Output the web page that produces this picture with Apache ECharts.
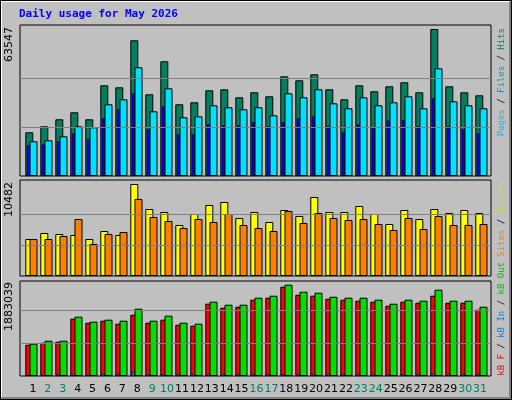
<!DOCTYPE html>
<html><head><meta charset="utf-8">
<script src="https://cdn.jsdelivr.net/npm/echarts@6/dist/echarts.min.js"></script>
<style>
html,body{margin:0;padding:0;background:#c0c0c0;}
#c{width:512px;height:400px;box-sizing:border-box;}
#frame{position:absolute;left:0;top:0;width:512px;height:400px;box-sizing:border-box;border-top:2px solid #fff;border-left:2px solid #fff;border-right:3px solid #808080;border-bottom:3px solid #808080;outline:1px solid #000;outline-offset:-1px;pointer-events:none;}
</style></head><body>
<div id="c"></div><div id="frame"></div>
<script>
const days = ['1','2','3','4','5','6','7','8','9','10','11','12','13','14','15','16','17','18','19','20','21','22','23','24','25','26','27','28','29','30','31'];
const weekend = [2,3,9,10,16,17,23,24,30,31];
const hits = [18890,21485,24511,27537,24511,39209,38344,58663,35319,49584,30996,31860,37048,37480,34022,36184,34454,43100,41371,43965,37480,33157,39209,36616,38777,40506,36184,63547,38777,36184,34887];
const files = [15001,15433,17162,21485,21053,30996,33157,46991,27970,37913,25376,25808,30564,29699,28834,29699,26241,35751,34022,37480,31428,29267,34022,30564,31860,34454,29267,46559,32293,30564,29267];
const pages = [13272,13704,15001,18459,15865,24944,28834,35751,20188,30131,18027,18027,22350,21918,21918,23214,21485,23214,24944,25808,21485,18891,22350,20621,24079,24079,21485,33590,21485,20188,18459];
const visits = [4214,4898,4784,4670,4214,5126,4670,10482,7631,7290,5809,7062,8087,8429,6606,7290,6151,7517,6834,8998,7290,7290,7973,7062,5923,7517,6492,7631,7176,7517,7176];
const sites = [4214,4214,4556,6492,3645,4784,5012,8770,6720,6264,5467,6492,6151,7062,5809,5467,5126,7404,6037,7176,6606,6378,6492,5923,5239,6606,5353,6834,5809,5809,5923];
const kbIn = [595,633,652,1090,1014,1052,995,1166,1014,1071,976,957,1375,1299,1318,1451,1489,1699,1546,1527,1470,1451,1432,1413,1337,1413,1394,1527,1394,1394,1261].map(v=>v*1000);
const kbOut = [614,671,671,1128,1033,1071,1052,1280,1052,1147,1014,995,1413,1356,1356,1489,1527,1737,1603,1584,1508,1489,1489,1451,1375,1451,1432,1641,1432,1432,1318].map(v=>v*1000);
const kbF = [20,20,30,20,20,40,40,80,30,30,30,30,30,30,30,30,30,30,30,30,30,30,30,30,30,30,30,40,30,30,30].map(v=>v*1000);
const scaleTop = 63547, scaleMid = 10482, scaleBot = 1883039;

const panels = [
  {top:25,height:151,max:65276,scale:scaleTop,series:[[hits,'#008060',8,21.8],[pages,'#0000ff',3,20.8],[files,'#00e0ff',8,26]]},
  {top:180,height:96,max:10934,scale:scaleMid,series:[[visits,'#ffff00',8,21.8],[sites,'#ff8000',8,26]]},
  {top:281,height:95,max:1807000,scale:scaleBot,series:[[kbIn,'#ff0000',8,21.8],[kbF,'#0080ff',3,20.8],[kbOut,'#00e000',8,26]]}
];
const grid=[],xAxis=[],yAxis=[],series=[];
function addGrid(g,x,y){grid.push(g);xAxis.push(Object.assign({type:'category',data:days,gridIndex:grid.length-1,axisLine:{show:false},axisTick:{show:false},axisLabel:{show:false},splitLine:{show:false}},x||{}));yAxis.push(Object.assign({type:'value',gridIndex:grid.length-1,min:0,axisLine:{show:false},axisTick:{show:false},axisLabel:{show:false},splitLine:{show:false}},y||{}));return grid.length-1;}
panels.forEach(p=>{
  const gi=addGrid({left:20,right:21,top:p.top,height:p.height,show:true,borderColor:'#000',borderWidth:1,backgroundColor:'#c0c0c0'},null,{max:p.max});
  series.push({type:'bar',xAxisIndex:gi,yAxisIndex:gi,data:[],silent:true,markLine:{silent:true,symbol:'none',label:{show:false},lineStyle:{color:'#808080',type:'solid',width:1},data:[{yAxis:p.scale/3},{yAxis:2*p.scale/3}]}});
  p.series.forEach((s,k)=>{
    const i=addGrid({left:s[3],right:512-s[3]-465,top:p.top,height:p.height},null,{max:p.max});
    series.push({type:'bar',z:2+k,xAxisIndex:i,yAxisIndex:i,data:s[0],barWidth:s[2],barMinHeight:1,itemStyle:{color:s[1],borderColor:'#000',borderWidth:s[2]>3?1:0.5},silent:true,animation:false});
  });
});
addGrid({left:25.5,right:24.5,top:378,height:1},{axisLabel:{show:true,interval:0,margin:5,fontFamily:'DejaVu Sans',fontSize:11,color:(v)=>weekend.includes(+v)?'#008060':'#000'}},{max:1});

const F='9px "DejaVu Sans Mono"';
function rt(text,x,y,rich){const r={k:{fill:'#000',font:F}};Object.keys(rich).forEach(k=>r[k]={fill:rich[k],font:F});return {type:'text',x,y,rotation:Math.PI/2,style:{text,align:'right',verticalAlign:'middle',font:F,rich:r}};}
const option={animation:false,backgroundColor:'#c0c0c0',grid,xAxis,yAxis,series,
 graphic:[
  {type:'text',left:19,top:9,style:{text:'Daily usage for May 2026',fill:'#0000ff',font:'bold 11px "DejaVu Sans Mono"'}},
  {type:'text',x:9,y:27,rotation:Math.PI/2,style:{text:String(scaleTop),fill:'#000',font:'11px "DejaVu Sans"',align:'right',verticalAlign:'middle'}},
  {type:'text',x:9,y:182,rotation:Math.PI/2,style:{text:String(scaleMid),fill:'#000',font:'11px "DejaVu Sans"',align:'right',verticalAlign:'middle'}},
  {type:'text',x:9,y:282,rotation:Math.PI/2,style:{text:String(scaleBot),fill:'#000',font:'11px "DejaVu Sans"',align:'right',verticalAlign:'middle'}},
  rt('{a|Pages}{k| / }{b|Files}{k| / }{c|Hits}',502,28,{a:'#00c0ff',b:'#00a0c0',c:'#008060'}),
  rt('{a|Sites}{k| / }{b|Visits}',502,181,{a:'#ff8000',b:'#e0e000'}),
  rt('{a|kB F}{k| / }{b|kB In}{k| / }{c|kB Out}',502,262,{a:'#ff0000',b:'#0080ff',c:'#00c000'})
 ]};
echarts.init(document.getElementById('c')).setOption(option);
</script></body></html>
